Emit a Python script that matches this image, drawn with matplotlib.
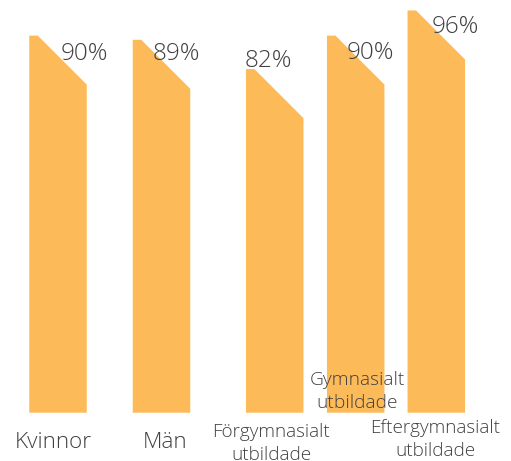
import matplotlib
matplotlib.use("Agg")
import matplotlib.pyplot as plt
from matplotlib.patches import Polygon
from matplotlib import transforms

# ---- data ----
categories = ["Kvinnor", "Män", "Förgymnasialt\nutbildade", "Gymnasialt\nutbildade", "Eftergymnasialt\nutbildade"]
values = [90, 89, 82, 90, 96]
value_labels = ["90%", "89%", "82%", "90%", "96%"]

# ---- layout (pixels) ----
W, H, DPI = 511, 461, 100
bar_centers = [58, 161.5, 274.7, 355.7, 436.3]
bar_w = 57.5
flat_top = 8.5           # flat part of the top before the cut
cut = 49                 # size of the 45-degree cut (px)
base_row = 412.7         # pixel row of bar bottoms
px_per_pct = 4.19

# value label offsets (px) from bar top-right corner
val_dx = [-2.75, -14.25, -35.5, -14.5, -9.5]
val_dy = [-24, -20, 2, -23.3, -22.6]
# category label layout
cat_dx = [-5, 3.5, -3.7, 1.5, -1]
cat_first_baseline = [448.3, 448.3, 436.5, 384.5, 433.3]
cat_size = [16.2, 16.2, 13.6, 13.8, 13.6]
line_gap = 23

color = "#FDBA58"
text_color = "#404040"
font = ["Open Sans", "DejaVu Sans"]
weight = "light"

fig = plt.figure(figsize=(W / DPI, H / DPI), dpi=DPI)
ax = fig.add_axes([0, 0, 1, 1])
ax.set_xlim(0, W)
ax.set_ylim(-(H - base_row) / px_per_pct, base_row / px_per_pct)
ax.axis("off")

cut_pct = cut / px_per_pct
for c, v in zip(bar_centers, values):
    x0, x1 = c - bar_w / 2, c + bar_w / 2
    poly = Polygon([(x0, 0), (x0, v), (x0 + flat_top, v), (x1, v - cut_pct), (x1, 0)],
                   closed=True, facecolor=color, edgecolor="none")
    ax.add_patch(poly)

for c, v, lab, dx, dy in zip(bar_centers, values, value_labels, val_dx, val_dy):
    tr = transforms.offset_copy(ax.transData, fig=fig, x=dx, y=dy, units="dots")
    ax.text(c + bar_w / 2, v, lab, transform=tr, ha="center", va="baseline",
            fontsize=17.5, color=text_color, family=font, fontweight=weight)

for c, lab, dx, row, fs in zip(bar_centers, categories, cat_dx, cat_first_baseline, cat_size):
    for i, line in enumerate(lab.split("\n")):
        r = row + i * line_gap
        ax.text(c + dx, (base_row - r) / px_per_pct, line, ha="center", va="baseline",
                fontsize=fs, color=text_color, family=font, fontweight=weight)

fig.savefig("out.png", dpi=DPI, facecolor="white")
